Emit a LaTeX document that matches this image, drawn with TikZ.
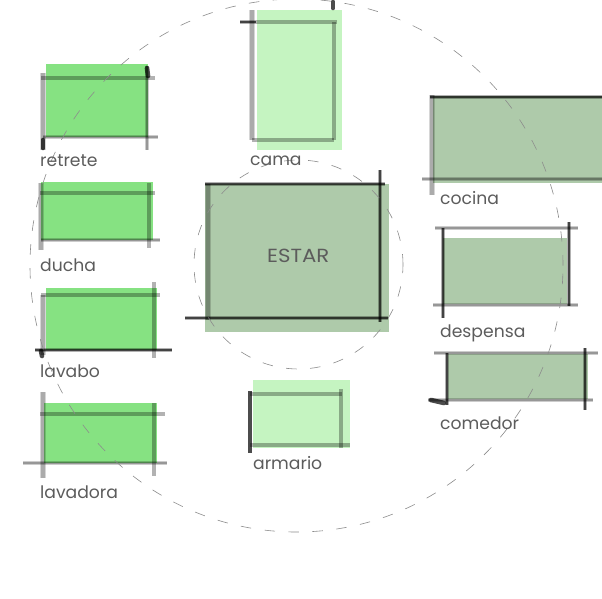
\documentclass[tikz,border=0pt]{standalone}
\usepackage{fontspec}
\setmainfont{Poppins}
\usetikzlibrary{positioning}

\definecolor{wetgreen}{RGB}{134,226,130}
\definecolor{drygreen}{RGB}{197,244,193}
\definecolor{sagegreen}{RGB}{174,202,170}
\definecolor{labelgray}{RGB}{92,92,92}

\begin{document}
\begin{tikzpicture}[
        x=1pt, y=-1pt,
        room/.style = {inner sep=0pt, outer sep=0pt, anchor=north west},
        wet/.style = {room, fill=wetgreen},
        dry/.style = {room, fill=drygreen},
        sage/.style = {room, fill=sagegreen},
        wall/.style = {black, opacity=0.2, line width=4.6pt, postaction={draw, black, opacity=0.26, line width=2.2pt}},
        wallband/.style = {black, opacity=0.3, line width=4.6pt},
        wallsoft/.style = {black, opacity=0.16, line width=6pt, postaction={draw, black, opacity=0.2, line width=3.6pt}},
        walldark/.style = {black, opacity=0.3, line width=4.4pt, postaction={draw, black, opacity=0.62, line width=2.4pt}},
        wallstub/.style = {black, opacity=0.7, line width=4.6pt, line cap=round},
        roomname/.style = {text=labelgray, font=\fontsize{17.2}{19}\selectfont, inner sep=0pt, anchor=base west},
        ring/.style = {gray!90, line width=0.6pt, dash pattern=on 10.5pt off 13.5pt},
        ]
        \useasboundingbox (0,0) rectangle (602,598);
        \fill[white] (0,0) rectangle (602,598);
        % room fills
        \node[wet, minimum width=102pt, minimum height=73pt] (retrete) at (46,64) {};
        \node[wet, minimum width=112pt, minimum height=58pt] (ducha) at (41,182) {};
        \node[wet, minimum width=111pt, minimum height=62pt] (lavabo) at (46,288) {};
        \node[wet, minimum width=113pt, minimum height=60pt] (lavadora) at (44,403) {};
        \node[dry, minimum width=85pt, minimum height=140pt] (cama) at (257,10) {};
        \node[dry, minimum width=97pt, minimum height=68pt] (armario) at (253,380) {};
        \node[sage, minimum width=184pt, minimum height=148pt] (estar) at (205,184) {};
        \node[sage, minimum width=169pt, minimum height=87pt] (cocina) at (433,96) {};
        \node[sage, minimum width=124pt, minimum height=66pt] (despensa) at (443,238) {};
        \node[sage, minimum width=140pt, minimum height=45pt] (comedor) at (448,354) {};
        % retrete
        \draw[wallsoft] (43,73) -- (43,150);
        \draw[wallband] (41,78) -- (155,78);
        \draw[wall] (147,66) -- (147,150);
        \draw[wall] (43,137) -- (158,137);
        \draw[wallstub] (147,68) -- (148,76);
        \draw[wallstub] (43,140) -- (43,148);
        % ducha
        \draw[wallsoft] (41,183) -- (41,250);
        \draw[wallband] (40,193) -- (155,193);
        \draw[wallband] (149,183) -- (149,248);
        \draw[wall] (41,240) -- (160,240);
        % lavabo
        \draw[wallsoft] (43,295) -- (43,355);
        \draw[wallband] (41,295) -- (160,295);
        \draw[wallband] (154,282) -- (154,358);
        \draw[walldark] (35,350) -- (172,350);
        \draw[wallstub] (41,351) -- (42,356);
        % lavadora
        \draw[wallsoft] (43,392) -- (43,478);
        \draw[wallband] (40,414) -- (165,414);
        \draw[wallband] (154,403) -- (154,476);
        \draw[wall] (23,463) -- (167,463);
        % cama
        \draw[wallsoft] (252,10) -- (252,140);
        \draw[walldark] (240,22) -- (256,22);
        \draw[wallband] (256,22) -- (337,22);
        \draw[wallband] (334,22) -- (334,140);
        \draw[wallstub] (333,2) -- (333,8);
        \draw[wallband] (252,140) -- (334,140);
        % estar
        \draw[wallsoft] (208,184) -- (208,320);
        \draw[walldark] (205,184) -- (385,184);
        \draw[walldark] (380,170) -- (380,322);
        \draw[walldark] (185,318) -- (388,318);
        % armario
        \draw[wallstub, line cap=butt] (250,391) -- (250,453);
        \draw[wallband] (250,394) -- (342,394);
        \draw[wallband] (341,389) -- (341,448);
        \draw[wallband] (250,445) -- (350,445);
        % cocina
        \draw[wallsoft] (432,95) -- (432,195);
        \draw[walldark] (430,97) -- (602,97);
        \draw[wall] (422,179) -- (602,179);
        % despensa
        \draw[wall] (435,228) -- (578,228);
        \draw[walldark] (443,228) -- (443,318);
        \draw[walldark] (569,222) -- (569,306);
        \draw[wall] (433,305) -- (578,305);
        % comedor
        \draw[wall] (434,353) -- (598,353);
        \draw[walldark] (447,353) -- (447,405);
        \draw[walldark] (585,348) -- (585,410);
        \draw[wall] (428,400) -- (593,400);
        \draw[wallstub] (431,400) -- (444,403);
        % circles
        \node[ring, draw, circle, minimum size=533pt, inner sep=0pt] (outer) at (296.5,265.5) {};
        \node[ring, draw, circle, minimum size=209pt, inner sep=0pt] (inner) at (298.5,264.5) {};
        % labels
        \node[roomname] (retretename) at (40,166) {retrete};
        \node[roomname] (duchaname) at (40,271) {ducha};
        \node[roomname] (lavaboname) at (40,377) {lavabo};
        \node[roomname] (lavadoraname) at (40,498) {lavadora};
        \node[roomname] (camaname) at (250,165) {cama};
        \node[roomname, font=\fontsize{19}{20}\selectfont\addfontfeature{FakeStretch=1.12}] (estarname) at (267,262) {ESTAR};
        \node[roomname] (armarioname) at (253,469) {armario};
        \node[roomname] (cocinaname) at (440,204) {cocina};
        \node[roomname] (despensaname) at (440,337) {despensa};
        \node[roomname] (comedorname) at (440,429) {comedor};
    \end{tikzpicture}
\end{document}
